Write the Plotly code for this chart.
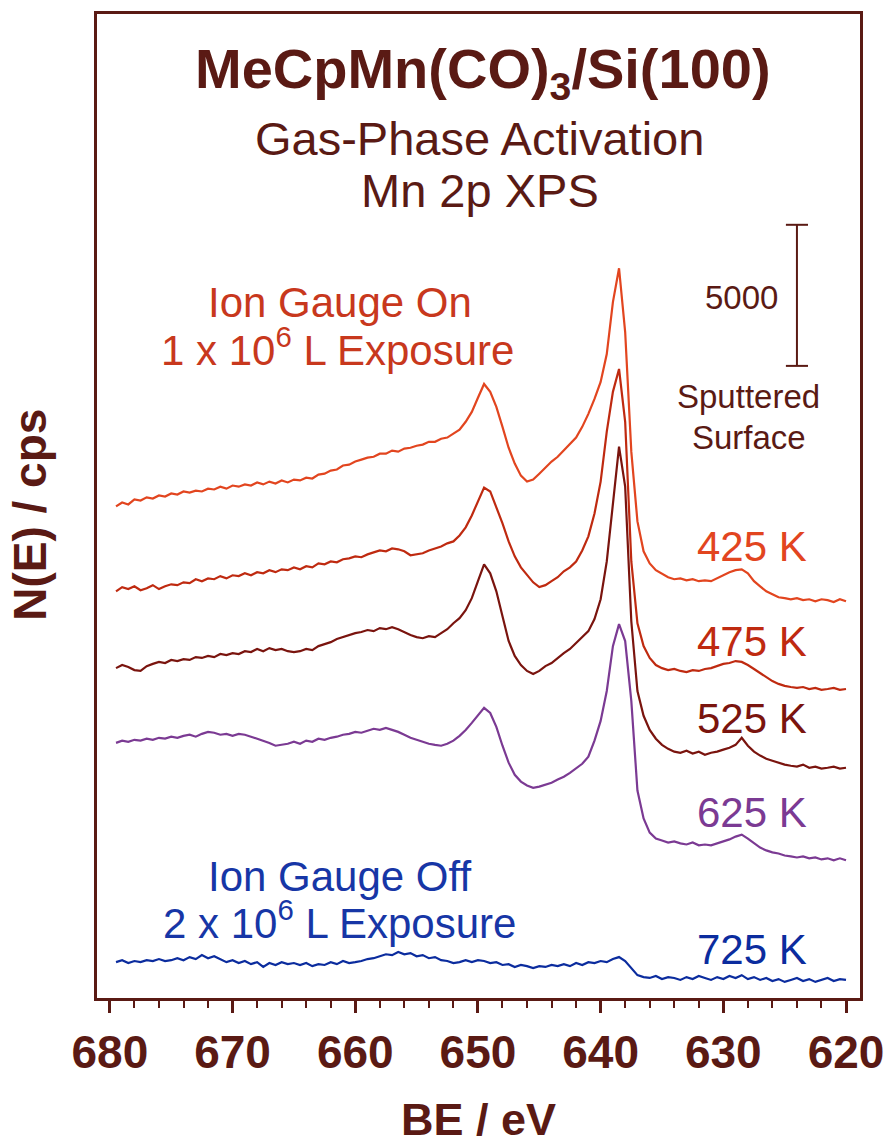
import plotly.graph_objects as go

# ---------------- data ----------------
BE_START = 679.5      # eV, first sample
BE_STEP = 0.5         # eV spacing of the samples
N_PTS = 120
be = [BE_START - BE_STEP * i for i in range(N_PTS)]   # binding energy axis (eV)

# N(E) in cps (vertically offset spectra as drawn)
n_425 = [17420, 17560, 17490, 17670, 17630, 17740, 17700, 17810, 17770, 17880,
         17840, 17950, 17910, 17980, 17950, 18050, 18020, 18120, 18050, 18160,
         18120, 18200, 18160, 18270, 18200, 18300, 18230, 18340, 18270, 18370,
         18340, 18440, 18410, 18550, 18580, 18690, 18730, 18870, 18900, 19010,
         19080, 19150, 19180, 19290, 19290, 19400, 19360, 19470, 19500, 19570,
         19610, 19710, 19710, 19820, 19860, 20000, 20140, 20420, 20770, 21270,
         21760, 21480, 20950, 20240, 19500, 18940, 18510, 18300, 18370, 18580,
         18800, 19010, 19180, 19400, 19610, 19860, 20240, 20700, 21230, 21830,
         22820, 24660, 25860, 23600, 19360, 16890, 15830, 15400, 15160, 15020,
         14910, 14840, 14870, 14800, 14840, 14770, 14800, 14770, 14870, 14980,
         15090, 15160, 15190, 15050, 14770, 14590, 14410, 14310, 14200, 14170,
         14130, 14170, 14100, 14130, 14060, 14130, 14100, 14030, 14130, 14060]

n_475 = [14410, 14560, 14490, 14590, 14450, 14520, 14630, 14490, 14590, 14660,
         14630, 14730, 14700, 14840, 14770, 14870, 14840, 14950, 14870, 14980,
         14950, 15050, 14980, 15090, 15050, 15160, 15090, 15190, 15160, 15260,
         15190, 15300, 15260, 15400, 15370, 15470, 15440, 15550, 15580, 15650,
         15620, 15720, 15790, 15860, 15830, 15930, 15900, 15830, 15690, 15720,
         15760, 15860, 15930, 16000, 16110, 16180, 16390, 16680, 17100, 17590,
         18090, 17950, 17420, 16820, 16180, 15650, 15260, 14980, 14730, 14560,
         14630, 14770, 14910, 15120, 15260, 15470, 15860, 16360, 17170, 18300,
         20070, 21480, 22290, 20420, 15470, 13280, 12470, 12050, 11800, 11690,
         11620, 11660, 11590, 11550, 11620, 11590, 11660, 11690, 11760, 11840,
         11870, 11940, 11910, 11800, 11660, 11520, 11380, 11230, 11130, 11060,
         11020, 10990, 11020, 10950, 10990, 10920, 10950, 10990, 10920, 10950]

n_525 = [11690, 11800, 11730, 11620, 11590, 11760, 11840, 11910, 11870, 11980,
         11940, 12010, 11980, 12080, 12050, 12120, 12080, 12190, 12150, 12220,
         12190, 12290, 12260, 12370, 12290, 12400, 12330, 12370, 12290, 12260,
         12290, 12370, 12330, 12470, 12540, 12610, 12720, 12790, 12860, 12930,
         12970, 13040, 13000, 13110, 13070, 13140, 13070, 12970, 12860, 12790,
         12750, 12820, 12790, 12930, 13070, 13280, 13460, 13740, 14170, 14770,
         15370, 15050, 14410, 13530, 12650, 12120, 11800, 11590, 11480, 11590,
         11760, 11870, 12050, 12220, 12370, 12580, 12790, 13000, 13430, 14130,
         15470, 17590, 19540, 18120, 13350, 10880, 10000, 9500, 9190, 8970,
         8830, 8730, 8690, 8760, 8660, 8730, 8620, 8690, 8730, 8800,
         8870, 8970, 9220, 8940, 8730, 8590, 8480, 8410, 8340, 8270,
         8230, 8200, 8270, 8160, 8200, 8130, 8160, 8200, 8130, 8160]

n_625 = [9040, 9120, 9080, 9150, 9120, 9190, 9150, 9220, 9190, 9260,
         9220, 9290, 9330, 9260, 9360, 9430, 9400, 9330, 9360, 9290,
         9360, 9330, 9260, 9190, 9120, 9040, 8940, 8970, 9010, 9080,
         9010, 9120, 9080, 9190, 9150, 9220, 9260, 9330, 9360, 9430,
         9400, 9470, 9540, 9500, 9570, 9500, 9430, 9330, 9220, 9150,
         9080, 9010, 8970, 8940, 9010, 9120, 9290, 9500, 9750, 10030,
         10280, 10100, 9610, 8940, 8340, 7910, 7670, 7530, 7450, 7490,
         7560, 7630, 7740, 7840, 7980, 8130, 8300, 8550, 9120, 9820,
         10880, 12470, 13250, 12650, 10530, 7350, 6360, 5860, 5650, 5580,
         5510, 5550, 5480, 5440, 5510, 5410, 5440, 5410, 5480, 5550,
         5620, 5720, 5790, 5650, 5480, 5330, 5230, 5160, 5120, 5050,
         5020, 4980, 5020, 4950, 4980, 4910, 4950, 4880, 4950, 4880]

n_725 = [1270, 1340, 1240, 1310, 1270, 1340, 1310, 1380, 1310, 1340,
         1410, 1340, 1450, 1380, 1520, 1410, 1480, 1380, 1270, 1340,
         1240, 1310, 1200, 1270, 1100, 1240, 1170, 1270, 1200, 1240,
         1170, 1240, 1130, 1200, 1170, 1270, 1200, 1310, 1240, 1270,
         1310, 1380, 1410, 1480, 1550, 1520, 1630, 1550, 1590, 1480,
         1520, 1410, 1450, 1340, 1310, 1240, 1270, 1340, 1270, 1340,
         1310, 1240, 1270, 1170, 1200, 1100, 1170, 1130, 1060, 1130,
         1100, 1170, 1130, 1200, 1130, 1240, 1170, 1270, 1240, 1310,
         1270, 1380, 1450, 1310, 1060, 810, 740, 710, 780, 670,
         740, 710, 640, 740, 670, 780, 710, 640, 740, 670,
         780, 710, 810, 670, 740, 640, 710, 600, 670, 570,
         640, 710, 600, 670, 570, 640, 710, 600, 670, 640]

series_names = ["425 K", "475 K", "525 K", "625 K", "725 K"]
series_values = [n_425, n_475, n_525, n_625, n_725]

major_ticks = [680, 670, 660, 650, 640, 630, 620]
minor_ticks = list(range(620, 681, 2))

SCALE_BAR_CPS = 5000
SCALE_BAR_BASE = 22400   # cps, lower end of the scale bar
SCALE_BAR_BE = 624.0

# ---------------- styling ----------------
BROWN = "#5a1a14"
colors = ["#e2451f", "#bf2a10", "#7a140e", "#7b3a93", "#0b2c9e"]
label_y_px = [545, 640, 718, 812, 949]
FONT = "Liberation Sans"

W, H = 895, 1146
L, R, T, B = 97, 864, 11, 998


def fx(px):
    return (px - L) / (R - L)


def fy(py):
    return (B - py) / (B - T)


fig = go.Figure()
for name, vals, col in zip(series_names, series_values, colors):
    fig.add_trace(go.Scatter(x=be, y=vals, mode="lines", name=name,
                             line=dict(color=col, width=2.2), showlegend=False,
                             hoverinfo="skip"))

annotations = []


def txt(text, px, py, size, color, bold=False, angle=0):
    annotations.append(dict(text=(f"<b>{text}</b>" if bold else text),
                            x=fx(px), y=fy(py), xref="paper", yref="paper",
                            xanchor="center", yanchor="middle", showarrow=False,
                            textangle=angle,
                            font=dict(family=FONT, size=size, color=color)))


txt("MeCpMn(CO)<sub>3</sub>/Si(100)", 485, 70, 56, BROWN, bold=True)
txt("Gas-Phase Activation", 482, 136, 47, BROWN)
txt("Mn 2p XPS", 482, 188, 47, BROWN)
txt("Ion Gauge On", 341, 300, 42, "#c8381d")
txt("1 x 10<sup>6</sup> L Exposure", 339, 345, 42, "#c8381d")
txt("Ion Gauge Off", 341, 876, 42, "#1736a6")
txt("2 x 10<sup>6</sup> L Exposure", 341, 920, 42, "#1736a6")
txt("5000", 745, 295, 33, BROWN)
txt("Sputtered", 752, 395, 33, BROWN)
txt("Surface", 752, 436, 33, BROWN)
for name, col, py in zip(series_names, colors, label_y_px):
    txt(name, 755, py, 42, col)
txt("N(E) / cps", 30, 513, 46, BROWN, bold=True, angle=-90)
txt("BE / eV", 480, 1120, 45, BROWN, bold=True)

shapes = [
    dict(type="line", xref="x", yref="y", x0=SCALE_BAR_BE, x1=SCALE_BAR_BE,
         y0=SCALE_BAR_BASE, y1=SCALE_BAR_BASE + SCALE_BAR_CPS,
         line=dict(color=BROWN, width=2)),
    dict(type="line", xref="x", yref="y", x0=SCALE_BAR_BE + 0.9, x1=SCALE_BAR_BE - 0.9,
         y0=SCALE_BAR_BASE, y1=SCALE_BAR_BASE, line=dict(color=BROWN, width=2)),
    dict(type="line", xref="x", yref="y", x0=SCALE_BAR_BE + 0.9, x1=SCALE_BAR_BE - 0.9,
         y0=SCALE_BAR_BASE + SCALE_BAR_CPS, y1=SCALE_BAR_BASE + SCALE_BAR_CPS,
         line=dict(color=BROWN, width=2)),
]

fig.update_layout(
    width=W, height=H,
    margin=dict(l=L, r=W - R, t=T, b=H - B),
    paper_bgcolor="white", plot_bgcolor="white",
    annotations=annotations, shapes=shapes,
    xaxis=dict(range=[681.05, 618.86], tickmode="array", tickvals=major_ticks,
               ticktext=[str(v) for v in major_ticks],
               ticks="outside", ticklen=12, tickwidth=2.5, tickcolor=BROWN,
               minor=dict(tickmode="array", tickvals=minor_ticks, ticks="outside",
                          ticklen=7, tickwidth=2, tickcolor=BROWN, showgrid=False),
               showline=True, linecolor=BROWN, linewidth=2.5, mirror=True,
               showgrid=False, zeroline=False,
               tickfont=dict(family=FONT, size=46, color=BROWN, weight=700),
               ticklabelstandoff=0),
    yaxis=dict(range=[0, 34870], showticklabels=False, ticks="",
               showline=True, linecolor=BROWN, linewidth=2.5, mirror=True,
               showgrid=False, zeroline=False),
)

fig.write_html("out.html")
